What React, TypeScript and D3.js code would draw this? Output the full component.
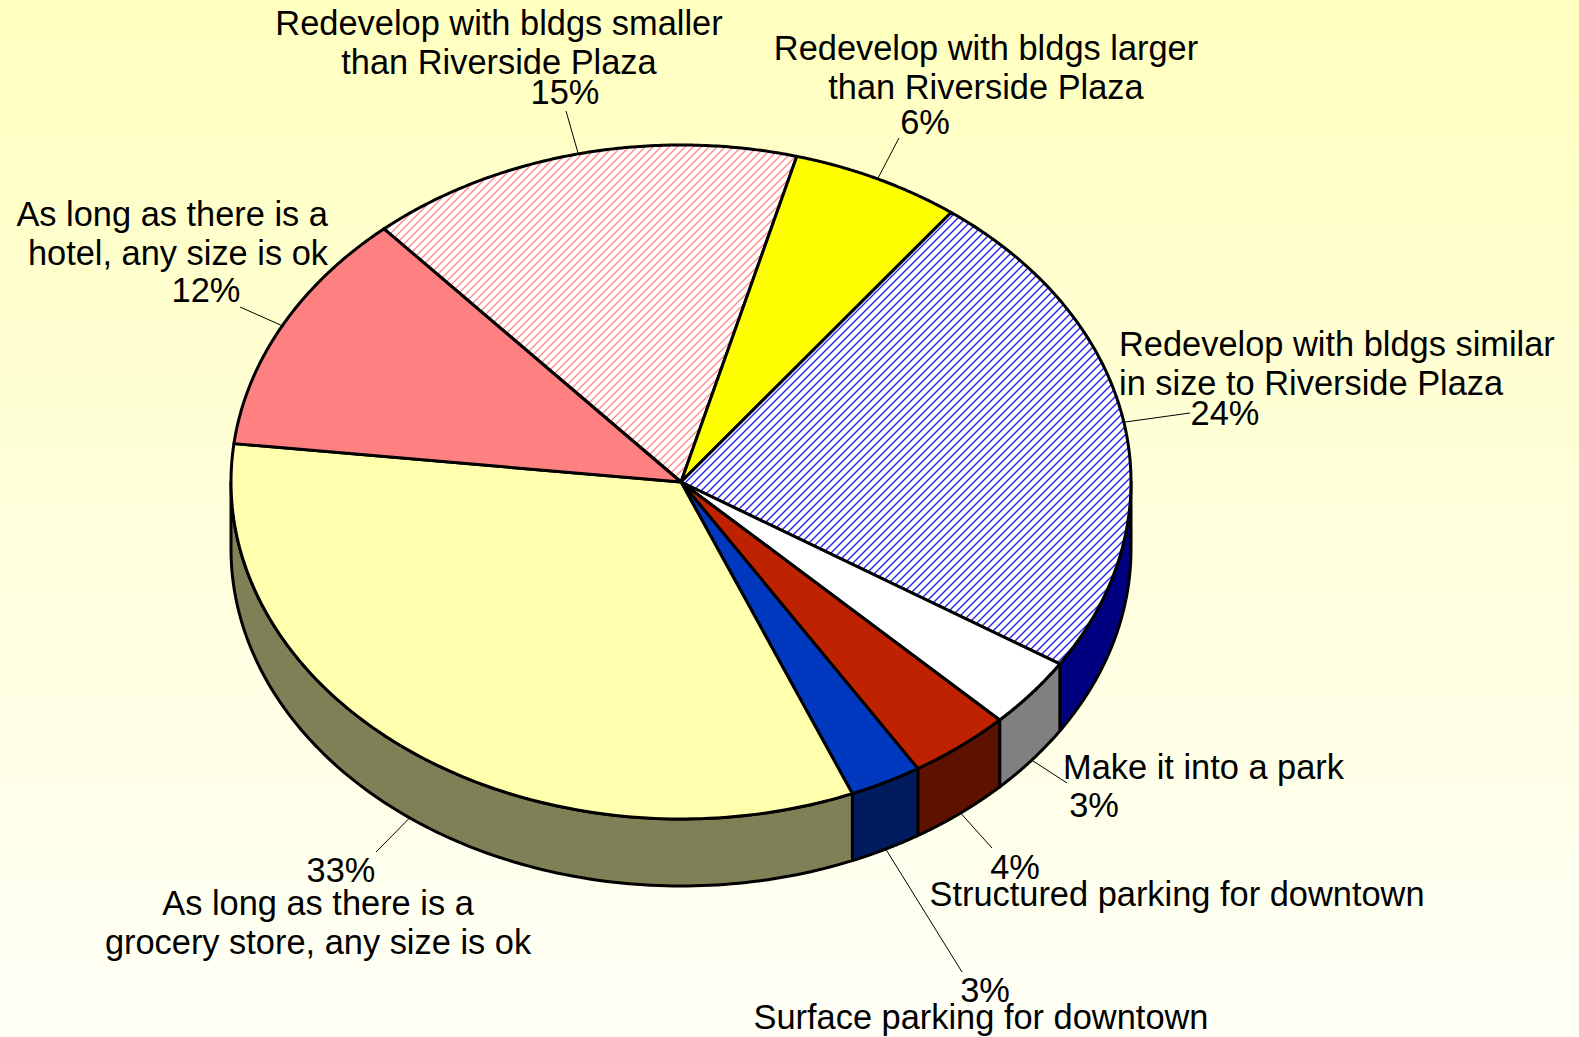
import React from "react";
import * as d3 from "d3";

const categories = [
  "Redevelop with bldgs smaller|than Riverside Plaza",
  "Redevelop with bldgs larger|than Riverside Plaza",
  "Redevelop with bldgs similar|in size to Riverside Plaza",
  "Make it into a park",
  "Structured parking for downtown",
  "Surface parking for downtown",
  "As long as there is a|grocery store, any size is ok",
  "As long as there is a|hotel, any size is ok",
];
const values = [15.6, 6.1, 23.8, 3.4, 3.7, 2.6, 33.0, 11.7];
const percentLabels = ["15%", "6%", "24%", "3%", "4%", "3%", "33%", "12%"];
const topFills = ["url(#pinkHatch)", "#FFFF00", "url(#blueHatch)", "#FFFFFF", "#BF2200", "#0039BF", "#FFFFAE", "#FF8080"];
const sideFills = ["#808080", "#808000", "#000080", "#808080", "#5F1100", "#001C5F", "#808057", "#804040"];
const startAngleDeg = -41.3;

const W = 1579, H = 1037;
const cx = 681, cy = 482, rx = 450, ry = 337, depth = 67;

const layout: any[] = [
  { x: 499, y: 34.5, pctX: 565, pctY: 103.5, leader: [566, 111] },
  { x: 986, y: 59.5, pctX: 925, pctY: 133.5, leader: [899, 138] },
  { x: 1312, y: 355.5, pctX: 1225, pctY: 424.5, leader: [1190, 413], align: "start", left: 1119 },
  { x: 1064, y: 778.5, pctX: 1094, pctY: 816.5, leader: [1067, 783], align: "start", left: 1063 },
  { x: 1177, y: 905.5, pctX: 1015, pctY: 878.5, leader: [992, 848] },
  { x: 981, y: 1028.5, pctX: 985, pctY: 1001.5, leader: [962, 972] },
  { x: 318, y: 914.5, pctX: 341, pctY: 881.5, leader: [376, 852] },
  { x: 172, y: 225.5, pctX: 206, pctY: 301.5, leader: [240, 307], align: "end", left: 328 },
];

const pie = d3.pie<number>().sort(null).value((d) => d)
  .startAngle((startAngleDeg * Math.PI) / 180)
  .endAngle(((startAngleDeg + 360) * Math.PI) / 180);

const xScale = d3.scaleLinear().domain([-1, 1]).range([cx - rx, cx + rx]);
const yScale = d3.scaleLinear().domain([-1, 1]).range([cy + ry, cy - ry]);
const px = (t: number) => xScale(Math.sin(t));
const py = (t: number) => yScale(Math.cos(t));
const FRONT_LO = Math.PI / 2, FRONT_HI = (3 * Math.PI) / 2;
const samples = (s: number, e: number) => d3.range(0, 121).map((k) => s + ((e - s) * k) / 120);
const line = d3.line<number[]>().x((d) => d[0]).y((d) => d[1]);

export default function App() {
  const arcs = pie(values);
  const topPath = (a: any) =>
    line([[cx, cy], ...samples(a.startAngle, a.endAngle).map((t) => [px(t), py(t)])]) + "Z";
  const wall = (a: any) => {
    const s = Math.max(a.startAngle, FRONT_LO), e = Math.min(a.endAngle, FRONT_HI);
    if (e <= s) return null;
    const ts = samples(s, e);
    return line([...ts.map((t) => [px(t), py(t)]), ...ts.slice().reverse().map((t) => [px(t), py(t) + depth])]) + "Z";
  };
  const font = "'Liberation Sans', Arial, sans-serif";
  return (
    <svg width={W} height={H} viewBox={`0 0 ${W} ${H}`} style={{ position: "absolute", left: 0, top: 0, display: "block" }}>
      <defs>
        <linearGradient id="bg" x1="0" y1="0" x2="0" y2="1">
          <stop offset="0" stopColor="#FFFFBF" />
          <stop offset="1" stopColor="#FFFFF7" />
        </linearGradient>
        <pattern id="pinkHatch" width="8" height="8" patternUnits="userSpaceOnUse">
          <rect width="8" height="8" fill="#fff" />
          <path d="M-2,2L2,-2M0,8L8,0M6,10L10,6" stroke="#FF8C8C" strokeWidth="1.4" />
        </pattern>
        <pattern id="blueHatch" width="8" height="8" patternUnits="userSpaceOnUse">
          <rect width="8" height="8" fill="#fff" />
          <path d="M-2,2L2,-2M0,8L8,0M6,10L10,6" stroke="#2222F5" strokeWidth="1.4" />
        </pattern>
      </defs>
      <rect width={W} height={H} fill="url(#bg)" />
      {layout.map((l, i) => {
        const m = (arcs[i].startAngle + arcs[i].endAngle) / 2;
        const wallShown = m > FRONT_LO && m < FRONT_HI;
        return (
          <line key={i} x1={px(m)} y1={py(m) + (wallShown ? depth : 0)} x2={l.leader[0]} y2={l.leader[1]} stroke="#000" strokeWidth={1} />
        );
      })}
      {arcs.map((a, i) => {
        const d = wall(a);
        return d ? <path key={i} d={d} fill={sideFills[i]} stroke="#000" strokeWidth={3} strokeLinejoin="round" /> : null;
      })}
      {arcs.map((a, i) => (
        <path key={i} d={topPath(a)} fill={topFills[i]} stroke="#000" strokeWidth={3} strokeLinejoin="round" />
      ))}
      <g fontFamily={font} fontSize={34.4} fill="#000">
        {categories.map((c, i) => {
          const l = layout[i];
          const lines = c.split("|");
          return (
            <g key={i}>
              {lines.map((t, k) => (
                <text key={k} x={l.align ? l.left : l.x} y={l.y + k * 39} textAnchor={l.align || "middle"}>{t}</text>
              ))}
              <text x={l.pctX} y={l.pctY} textAnchor="middle">{percentLabels[i]}</text>
            </g>
          );
        })}
      </g>
    </svg>
  );
}
